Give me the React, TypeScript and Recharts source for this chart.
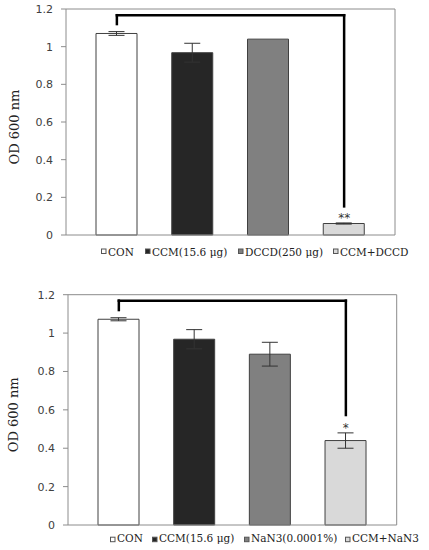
import React from 'react';
import { BarChart, Bar, XAxis, YAxis, Cell, ErrorBar, ReferenceLine, ReferenceDot, Legend } from 'recharts';

// ---- data ----
const categoriesTop = ['CON', 'CCM(15.6 μg)', 'DCCD(250 μg)', 'CCM+DCCD'];
const valuesTop = [1.07, 0.968, 1.04, 0.061];
const errorsTop = [0.01, 0.05, 0, 0.003];

const categoriesBottom = ['CON', 'CCM(15.6 μg)', 'NaN3(0.0001%)', 'CCM+NaN3'];
const valuesBottom = [1.072, 0.968, 0.89, 0.44];
const errorsBottom = [0.008, 0.05, 0.062, 0.04];

const yTicks = [0, 0.2, 0.4, 0.6, 0.8, 1, 1.2];
const yTickLabels = ['0', '0.2', '0.4', '0.6', '0.8', '1', '1.2'];
const yAxisTitle = 'OD 600 nm';

// significance brackets: [bar height, left end, right end]
const bracketTop = [1.167, 1.12, 0.152];
const starTop = '**';
const starTopY = 0.07;
const bracketBottom = [1.169, 1.12, 0.573];
const starBottom = '*';
const starBottomY = 0.486;

// ---- styles ----
const barColors = ['#ffffff', '#262626', '#808080', '#d9d9d9'];
const AXIS = '#8c8c8c';
const LEGEND_H = 24;

type PanelProps = {
  categories: string[];
  values: number[];
  errors: number[];
  bracket: number[];
  star: string;
  starY: number;
  top: number;
  height: number;
  margin: { top: number; right: number; bottom: number; left: number };
  yWidth: number;
  legendX: number[];
  legendBaseline: number;
  legendSquareTop: number;
};

const Panel = (p: PanelProps) => {
  const data = p.categories.map((c, i) => ({ name: c, value: p.values[i], err: p.errors[i] }));
  const first = p.categories[0];
  const last = p.categories[p.categories.length - 1];
  const [by, bl, br] = p.bracket;

  const renderLegend = () => (
    <svg width={429} height={LEGEND_H} style={{ display: 'block', overflow: 'visible' }}>
      {p.categories.map((c, i) => (
        <g key={c}>
          <rect
            x={p.legendX[i] + 0.5}
            y={p.legendSquareTop + 0.5}
            width={4.5}
            height={4.5}
            fill={barColors[i]}
            stroke="#555"
            strokeWidth={1}
          />
          <text
            x={p.legendX[i] + 7}
            y={p.legendBaseline}
            fontFamily="DejaVu Serif"
            fontSize={10.5}
            fill="#222"
          >
            {c}
          </text>
        </g>
      ))}
    </svg>
  );

  const renderYLabel = (props: any) => {
    const vb = props.viewBox || {};
    const cy = (vb.y ?? 0) + (vb.height ?? 0) / 2 + 5;
    const cx = 14;
    return (
      <text
        x={cx}
        y={cy}
        transform={`rotate(-90 ${cx} ${cy})`}
        textAnchor="middle"
        dominantBaseline="central"
        fontFamily="DejaVu Serif"
        fontSize={13}
        fill="#222"
      >
        {yAxisTitle}
      </text>
    );
  };

  const lineProps = { stroke: '#000', strokeWidth: 2.5, strokeLinecap: 'square' as const, ifOverflow: 'visible' as const };

  return (
    <div style={{ position: 'absolute', left: 0, top: p.top }}>
      <BarChart width={429} height={p.height} data={data} margin={p.margin}>
        <XAxis
          dataKey="name"
          height={1}
          tick={false}
          tickLine={false}
          axisLine={{ stroke: AXIS }}
          padding={{ left: 13, right: 13 }}
        />
        <XAxis
          xAxisId="top"
          orientation="top"
          dataKey="name"
          height={1}
          tick={false}
          tickLine={false}
          axisLine={{ stroke: AXIS }}
          padding={{ left: 13, right: 13 }}
        />
        <YAxis
          domain={[0, 1.2]}
          ticks={yTicks}
          interval={0}
          width={p.yWidth}
          tickSize={5}
          tickMargin={8}
          tickLine={{ stroke: AXIS }}
          axisLine={{ stroke: AXIS }}
          tick={{ fontSize: 11, fill: '#404040', fontFamily: 'DejaVu Sans' }}
          tickFormatter={(v: number) => yTickLabels[yTicks.indexOf(v)] ?? String(v)}
          label={renderYLabel}
        />
        <YAxis
          yAxisId="right"
          orientation="right"
          domain={[0, 1.2]}
          width={1}
          tick={false}
          tickLine={false}
          axisLine={{ stroke: AXIS }}
        />
        <Legend
          verticalAlign="bottom"
          content={renderLegend}
          wrapperStyle={{ left: 0, width: 429, height: LEGEND_H }}
        />
        <Bar dataKey="value" barSize={41} isAnimationActive={false} stroke="#404040" strokeWidth={1}>
          {data.map((d, i) => (
            <Cell key={d.name} fill={barColors[i]} />
          ))}
          <ErrorBar dataKey="err" width={8} stroke="#333" strokeWidth={1} isAnimationActive={false} />
        </Bar>
        <ReferenceLine segment={[{ x: first, y: by }, { x: last, y: by }]} {...lineProps} />
        <ReferenceLine segment={[{ x: first, y: by }, { x: first, y: bl }]} {...lineProps} />
        <ReferenceLine segment={[{ x: last, y: by }, { x: last, y: br }]} {...lineProps} />
        <ReferenceDot
          x={last}
          y={p.starY}
          r={0}
          ifOverflow="visible"
          shape={(s: any) => (
            <text x={s.cx} y={s.cy} textAnchor="middle" fontFamily="DejaVu Sans" fontSize={12} fill="#333">
              {p.star}
            </text>
          )}
        />
      </BarChart>
    </div>
  );
};

export default function App() {
  return (
    <div style={{ position: 'absolute', left: 0, top: 0, width: 429, height: 550, background: '#fff' }}>
      <Panel
        categories={categoriesTop}
        values={valuesTop}
        errors={errorsTop}
        bracket={bracketTop}
        star={starTop}
        starY={starTopY}
        top={0}
        height={260}
        margin={{ top: 8, right: 33, bottom: 0, left: 0 }}
        yWidth={66}
        legendX={[101, 145, 238, 333]}
        legendBaseline={19.5}
        legendSquareTop={12.5}
      />
      <Panel
        categories={categoriesBottom}
        values={valuesBottom}
        errors={errorsBottom}
        bracket={bracketBottom}
        star={starBottom}
        starY={starBottomY}
        top={285}
        height={265}
        margin={{ top: 8.7, right: 31.3, bottom: 0, left: 0 }}
        yWidth={68}
        legendX={[110, 152, 244, 345]}
        legendBaseline={15.7}
        legendSquareTop={10.7}
      />
    </div>
  );
}
